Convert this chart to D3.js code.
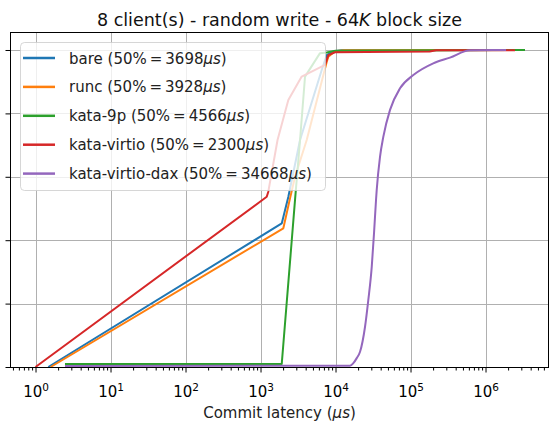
<!DOCTYPE html>
<html>
<head>
<meta charset="utf-8">
<script src="https://cdn.jsdelivr.net/npm/d3@7/dist/d3.min.js"></script>
<style>
	body { margin: 0; background: #fff; }
	svg { font-family: "DejaVu Sans", sans-serif; }
	.grid line { stroke: #b0b0b0; stroke-width: 1; }
	.axis path { display: none; }
	.axis line { stroke: #000; stroke-width: 1; }
	.cdf { fill: none; stroke-width: 2; stroke-linejoin: round; }
</style>
</head>
<body>
<svg id="chart" width="550" height="425"></svg>
<script>
(function () {
	//DATA
	var seriesNames = ["bare", "runc", "kata-9p", "kata-virtio", "kata-virtio-dax"];
	var seriesMedians = [3698, 3928, 4566, 2300, 34668];
	var seriesColors = ["#1f77b4", "#ff7f0e", "#2ca02c", "#d62728", "#9467bd"];
	// [latency in us, cumulative fraction]
	var bareCdf = [[1.48, 0], [1918, 0.453], [2350, 0.537], [3365, 0.716], [6546, 0.937], [7640, 0.984], [9260, 0.995], [12000, 0.999], [1.3e6, 1.0]];
	var runcCdf = [[1.59, 0], [2014, 0.4375], [2473, 0.532], [2884, 0.600], [4130, 0.716], [7640, 0.963], [8020, 0.979], [9840, 0.996], [13000, 0.999], [1.6e6, 1.0]];
	var kata9pCdf = [[2.47, 0.0095], [1918, 0.0095], [2884, 0.527], [3365, 0.716], [3920, 0.916], [6210, 0.990], [7640, 0.992], [10000, 0.998], [3.36e6, 1.0]];
	var kataVirtioCdf = [[1, 0], [1210, 0.537], [1270, 0.553], [1686, 0.716], [2348, 0.842], [3540, 0.916], [7244, 0.953], [8020, 0.984], [9840, 0.993], [1.8e5, 0.995], [2.2e5, 0.999], [2.47e6, 0.999]];
	var kataVirtioDaxCdf = [[2.47, 0.003], [15600, 0.004], [17270, 0.012], [19180, 0.028], [21230, 0.048], [24740, 0.127], [27350, 0.211], [30400, 0.316], [32600, 0.422], [34670, 0.527], [35400, 0.558], [39180, 0.663], [43350, 0.726], [53300, 0.811], [72440, 0.879], [1.09e5, 0.921], [2.01e5, 0.958], [3.36e5, 0.976], [6.21e5, 0.999], [1.88e6, 1.0]];
	var xTickExponents = [0, 1, 2, 3, 4, 5, 6];
	var yTicks = [0, 0.2, 0.4, 0.6, 0.8, 1.0];

	var allCdf = [bareCdf, runcCdf, kata9pCdf, kataVirtioCdf, kataVirtioDaxCdf];
	var plot = { left: 11, right: 548, top: 33, bottom: 367 };
	var svg = d3.select("#chart");

	var x = d3.scaleLog().domain([Math.pow(10, -0.327), Math.pow(10, 6.833)]).range([plot.left, plot.right]);
	var y = d3.scaleLinear().domain([0, 1.0536]).range([plot.bottom, plot.top]);

	var majorTicks = xTickExponents.map(function (e) { return Math.pow(10, e) });
	var minorTicks = [];
	for (var e = -1; e <= 6; e++) {
		for (var m = 2; m <= 9; m++) {
			var v = m * Math.pow(10, e);
			if (v >= x.domain()[0] && v <= x.domain()[1]) minorTicks.push(v);
		}
	}

	drawGrid();
	drawAxes();
	drawLines();
	drawFrame();
	drawLegend();
	drawTexts();

	function drawGrid() {
		var g = svg.append("g").attr("class", "grid");
		g.selectAll(".gx").data(majorTicks).enter().append("line")
			.attr("x1", function (d) { return Math.round(x(d)) + 0.5 })
			.attr("x2", function (d) { return Math.round(x(d)) + 0.5 })
			.attr("y1", plot.top).attr("y2", plot.bottom);
		g.selectAll(".gy").data(yTicks).enter().append("line")
			.attr("x1", plot.left).attr("x2", plot.right)
			.attr("y1", function (d) { return Math.round(y(d)) + 0.5 })
			.attr("y2", function (d) { return Math.round(y(d)) + 0.5 });
	}
	function drawAxes() {
		svg.append("g").attr("class", "axis")
			.attr("transform", "translate(0," + (plot.bottom + 0.5) + ")")
			.call(d3.axisBottom(x).tickValues(minorTicks).tickSize(3).tickSizeOuter(0).tickFormat(""));

		var xAxis = svg.append("g").attr("class", "axis")
			.attr("transform", "translate(0," + (plot.bottom + 0.5) + ")")
			.call(d3.axisBottom(x).tickValues(majorTicks).tickSize(5).tickSizeOuter(0));

		xAxis.selectAll(".tick text")
			.text(null)
			.attr("y", 29.5).attr("dy", null)
			.attr("font-size", "15px").attr("fill", "#000")
			.attr("font-family", "DejaVu Sans")
			.each(function (d) {
				var t = d3.select(this);
				t.append("tspan").text("10");
				t.append("tspan").attr("dy", "-6").attr("font-size", "10.5px").text(Math.round(Math.log10(d)));
			});

		svg.append("g").attr("class", "axis")
			.attr("transform", "translate(" + (plot.left - 0.5) + ",0)")
			.call(d3.axisLeft(y).tickValues(yTicks).tickSize(5).tickSizeOuter(0).tickFormat(""));
	}
	function drawLines() {
		// the dax curve is a dense smooth cdf, the others have sharp kinks
		var line = d3.line()
			.x(function (d) { return x(d[0]) })
			.y(function (d) { return y(d[1]) });
		var smooth = d3.line()
			.x(function (d) { return x(d[0]) })
			.y(function (d) { return y(d[1]) })
			.curve(d3.curveMonotoneX);
		svg.selectAll(".cdf").data(allCdf).enter().append("path")
			.attr("class", "cdf")
			.attr("d", function (d) { return d === kataVirtioDaxCdf ? smooth(d) : line(d) })
			.attr("stroke", function (d, i) { return seriesColors[i] });
	}
	function drawFrame() {
		svg.append("rect")
			.attr("x", plot.left - 0.5).attr("y", plot.top - 0.5)
			.attr("width", plot.right - plot.left + 1).attr("height", plot.bottom - plot.top + 1)
			.attr("fill", "none").attr("stroke", "#000").attr("stroke-width", 1);
	}
	function drawLegend() {
		var lg = svg.append("g").attr("class", "legend");
		lg.append("rect")
			.attr("x", 20.5).attr("y", 42.5).attr("width", 305).attr("height", 148).attr("rx", 4)
			.attr("fill", "#fff").attr("fill-opacity", 0.8)
			.attr("stroke", "#ccc").attr("stroke-opacity", 0.8);

		var rows = lg.selectAll(".row").data(seriesNames).enter().append("g")
			.attr("transform", function (d, i) { return "translate(0," + (58 + 28.9 * i) + ")" });
		rows.append("line")
			.attr("x1", 23).attr("x2", 55).attr("y1", 0).attr("y2", 0)
			.attr("stroke-width", 2.5)
			.attr("stroke", function (d, i) { return seriesColors[i] });
		var txt = rows.append("text")
			.attr("x", 69).attr("y", 5.5)
			.attr("font-size", "15px").attr("fill", "#222");
		txt.append("tspan").text(function (d, i) { return d + " (50%\u2009=\u2009" + seriesMedians[i] });
		txt.append("tspan").attr("font-style", "italic").text("\u03bcs");
		txt.append("tspan").text(")");
	}
	function drawTexts() {
		var title = svg.append("text")
			.attr("x", (plot.left + plot.right) / 2).attr("y", 26)
			.attr("text-anchor", "middle").attr("font-size", "17.5px").attr("fill", "#111");
		title.append("tspan").text("8 client(s) - random write - 64");
		title.append("tspan").attr("font-style", "italic").text("K");
		title.append("tspan").text(" block size");

		var xl = svg.append("text")
			.attr("x", (plot.left + plot.right) / 2).attr("y", 418)
			.attr("text-anchor", "middle").attr("font-size", "15px").attr("fill", "#222");
		xl.append("tspan").text("Commit latency (");
		xl.append("tspan").attr("font-style", "italic").text("\u03bcs");
		xl.append("tspan").text(")");
	}
})();
</script>
</body>
</html>
